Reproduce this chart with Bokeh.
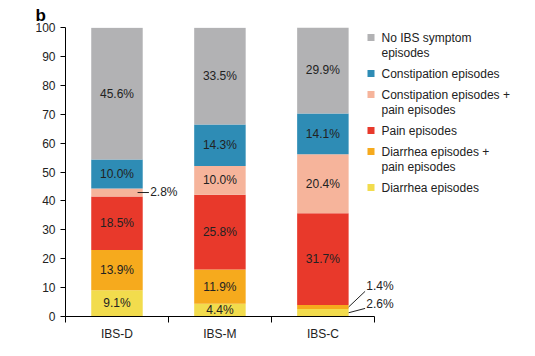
from bokeh.plotting import figure
from bokeh.models import ColumnDataSource, FixedTicker, Range1d
from bokeh.embed import file_html
from bokeh.resources import INLINE
from bokeh.core.properties import value

groups = ["IBS-D", "IBS-M", "IBS-C"]
series_names = [
    "Diarrhea episodes",
    "Diarrhea episodes +\npain episodes",
    "Pain episodes",
    "Constipation episodes +\npain episodes",
    "Constipation episodes",
    "No IBS symptom\nepisodes",
]
diarrhea = [9.1, 4.4, 2.6]
diarrhea_pain = [13.9, 11.9, 1.4]
pain = [18.5, 25.8, 31.7]
constipation_pain = [2.8, 10.0, 20.4]
constipation = [10.0, 14.3, 14.1]
no_symptom = [45.6, 33.5, 29.9]
y_ticks = [0, 10, 20, 30, 40, 50, 60, 70, 80, 90, 100]
colors = ["#f2dc4d", "#f6aa1d", "#e8392b", "#f6b49b", "#2e8cb5", "#b2b2b4"]

series = [diarrhea, diarrhea_pain, pain, constipation_pain, constipation, no_symptom]

FONT = "Liberation Sans"
TXT = "#222222"

FRAME_W, FRAME_H = 453, 289
X_END, Y_END = 4.4, 100

p = figure(frame_width=FRAME_W, frame_height=FRAME_H, output_backend="svg", toolbar_location=None,
           x_range=Range1d(0, X_END), y_range=Range1d(0, Y_END),
           min_border_left=65, min_border_top=27, min_border_right=5, min_border_bottom=30,
           title="b")
p.title.text_font = FONT
p.title.text_font_style = "bold"
p.title.text_font_size = "17px"
p.title.text_color = "black"
p.title.offset = -30
p.title.standoff = 5
p.outline_line_color = None
p.xgrid.visible = False
p.ygrid.visible = False

centers = [i + 0.5 for i in range(len(groups))]
bar_w = 0.5

bottoms = [0.0] * len(groups)
label_x, label_y, label_t = [], [], []
mids = []
for k, vals in enumerate(series):
    tops = [b + v for b, v in zip(bottoms, vals)]
    src = ColumnDataSource(dict(x=centers, bottom=bottoms, top=tops))
    p.vbar(x="x", width=bar_w, bottom="bottom", top="top", source=src,
           fill_color=colors[k], line_color=None)
    mids.append([(b + t) / 2 for b, t in zip(bottoms, tops)])
    for i, v in enumerate(vals):
        if v >= 3:
            label_x.append(centers[i])
            label_y.append((bottoms[i] + tops[i]) / 2)
            label_t.append(f"{v:.1f}%")
    bottoms = tops

p.text(x=label_x, y=label_y, text=label_t, text_align="center", text_baseline="middle",
       text_font=value(FONT), text_font_size="12px", text_color=TXT)

# outside labels for thin segments: (group, series, dx_start, dx_end, dy_end, dy_text)
callouts = [(0, 3, 0.20, 0.31, 0.0, 0.1), (2, 1, 0.25, 0.41, 5.4, 7.4), (2, 0, 0.25, 0.41, 1.5, 2.9)]
x0s, y0s, x1s, y1s, tx, ty, tt = [], [], [], [], [], [], []
for g, s, dx0, dx1, dy1, dyt in callouts:
    yc = mids[s][g]
    x0s.append(centers[g] + dx0); y0s.append(yc)
    x1s.append(centers[g] + dx1); y1s.append(yc + dy1)
    tx.append(centers[g] + dx1 + 0.012); ty.append(yc + dyt)
    tt.append(f"{series[s][g]:.1f}%")
p.segment(x0=x0s, y0=y0s, x1=x1s, y1=y1s, line_color="#222222", line_width=1)
p.text(x=tx, y=ty, text=tt, text_align="left", text_baseline="middle",
       text_font=value(FONT), text_font_size="12px", text_color=TXT)

# legend (drawn with glyphs so that the swatch aligns with the first text line)
px_x = FRAME_W / X_END      # pixels per x unit
px_y = FRAME_H / Y_END      # pixels per y unit
LEG_LEFT_PX = 305.5         # swatch centre, px from frame left
LEG_TOP_PX = 10             # first row centre, px from frame top
LINE_PX, GAP_PX, STANDOFF_PX = 15, 6, 10.5
sw_x, sw_y, sw_c = [], [], []
lt_x, lt_y, lt_t = [], [], []
row = LEG_TOP_PX
for k in reversed(range(len(series))):
    lines = series_names[k].split("\n")
    yv = Y_END - row / px_y
    sw_x.append(LEG_LEFT_PX / px_x); sw_y.append(yv); sw_c.append(colors[k])
    for j, ln in enumerate(lines):
        lt_x.append((LEG_LEFT_PX + STANDOFF_PX) / px_x)
        lt_y.append(Y_END - (row + j * LINE_PX) / px_y)
        lt_t.append(ln)
    row += len(lines) * LINE_PX + GAP_PX
p.scatter(x=sw_x, y=sw_y, marker="square", size=7, fill_color=sw_c, line_color=None)
p.text(x=lt_x, y=lt_y, text=lt_t, text_align="left", text_baseline="middle",
       text_font=value(FONT), text_font_size="12px", text_color=TXT)

# axes
xa = p.xaxis[0]
xa.ticker = FixedTicker(ticks=centers, minor_ticks=[0, 1, 2, 3])
xa.major_label_overrides = {c: g for c, g in zip(centers, groups)}
xa.bounds = (0, 3)
xa.major_tick_line_color = None
xa.major_tick_out = 6
xa.major_tick_in = 0
xa.minor_tick_in = 0
xa.minor_tick_out = 6
xa.minor_tick_line_color = "black"
xa.major_label_standoff = 4

ya = p.yaxis[0]
ya.ticker = FixedTicker(ticks=y_ticks, minor_ticks=[])
ya.major_tick_in = 0
ya.major_tick_out = 5
ya.major_label_standoff = 5
ya.minor_tick_line_color = None

for ax in (xa, ya):
    ax.axis_line_color = "black"
    ax.major_label_text_font = FONT
    ax.major_label_text_font_size = "12px"
    ax.major_label_text_color = TXT

open("out.html", "w").write(file_html(p, INLINE))
